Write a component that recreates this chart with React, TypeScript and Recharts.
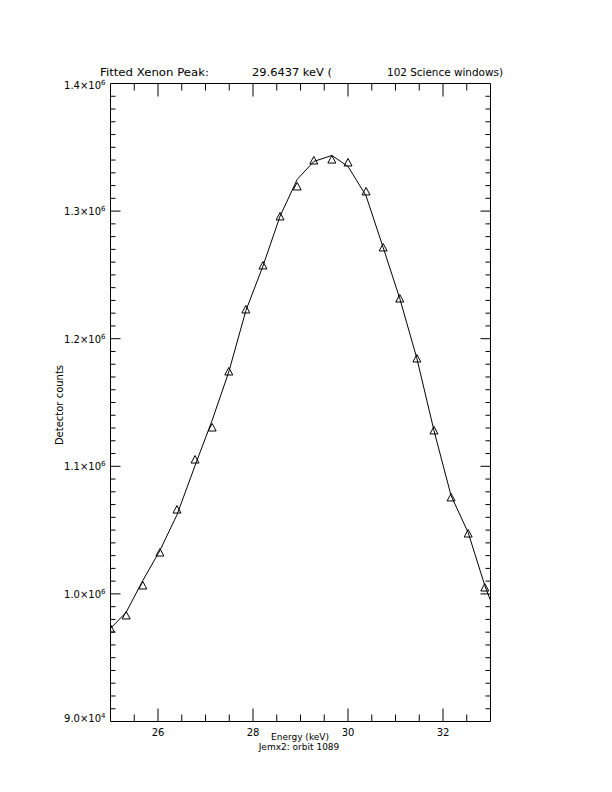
import React from "react";
import { ComposedChart, Line, Scatter, XAxis, YAxis } from "recharts";

// Observed data (triangles)
const energies = [25.0, 25.33, 25.68, 26.04, 26.4, 26.78, 27.14, 27.49, 27.85, 28.21, 28.57, 28.93, 29.28, 29.66, 30.0, 30.38, 30.74, 31.09, 31.45, 31.81, 32.17, 32.53, 32.88];
const counts = [972900, 983100, 1006600, 1032400, 1066100, 1105300, 1130400, 1174300, 1222900, 1257400, 1295800, 1319300, 1339700, 1340400, 1338100, 1315400, 1271500, 1231500, 1184500, 1128100, 1075600, 1047300, 1005000];

// Fitted curve
const fitEnergies = [25.0, 25.33, 25.68, 26.04, 26.4, 26.78, 27.14, 27.49, 27.85, 28.21, 28.57, 28.93, 29.28, 29.66, 30.0, 30.38, 30.74, 31.09, 31.45, 31.81, 32.17, 32.53, 32.88, 33.0];
const fitCounts = [972900, 985600, 1010500, 1034000, 1062000, 1100600, 1136000, 1174000, 1222000, 1257000, 1296000, 1324800, 1338900, 1343600, 1335000, 1312000, 1271500, 1231500, 1184500, 1128000, 1077000, 1048000, 1006600, 994800];

// Axis ticks
const xMajorTicks = [26, 28, 30, 32];
const xMinorTicks = [25.5, 26.5, 27, 27.5, 28.5, 29, 29.5, 30.5, 31, 31.5, 32.5];
const yMajorTicks = [900000, 1000000, 1100000, 1200000, 1300000, 1400000];
const yMajorLabels = [
  ["9.0×10", "4"],
  ["1.0×10", "6"],
  ["1.1×10", "6"],
  ["1.2×10", "6"],
  ["1.3×10", "6"],
  ["1.4×10", "6"],
];
const yMinorStep = 10000;

const title = ["Fitted Xenon Peak:", "29.6437 keV (", "102 Science windows)"];
const xTitle = "Energy (keV)";
const subTitle = "Jemx2: orbit 1089";
const yTitle = "Detector counts";

const obsData = energies.map((x, i) => ({ x, y: counts[i] }));
const fitData = fitEnergies.map((x, i) => ({ x, y: fitCounts[i] }));
const xAllTicks = [...xMajorTicks, ...xMinorTicks].sort((a, b) => a - b);
const yAllTicks: number[] = [];
for (let v = yMajorTicks[0] + yMinorStep; v < yMajorTicks[yMajorTicks.length - 1]; v += yMinorStep) {
  yAllTicks.push(v);
}

const FONT = "'DejaVu Sans', 'Liberation Sans', sans-serif";

const XMAJ = 13;
const XMIN = 7;
const YMAJ = 10;
const YMIN = 5;

const BottomTick = (props: any) => {
  const { x, y, payload } = props;
  const v = payload.value;
  const major = xMajorTicks.includes(v);
  return (
    <g>
      <line x1={x} x2={x} y1={y} y2={y - (major ? XMAJ : XMIN)} stroke="#000" strokeWidth={1} />
      {major && (
        <text x={x} y={y + 14} textAnchor="middle" fontFamily={FONT} fontSize={10} fill="#000">
          {v}
        </text>
      )}
    </g>
  );
};

const TopTick = (props: any) => {
  const { x, y, payload } = props;
  const v = payload.value;
  const major = xMajorTicks.includes(v);
  return <line x1={x} x2={x} y1={y} y2={y + (major ? XMAJ : XMIN)} stroke="#000" strokeWidth={1} />;
};

const isMajorY = (v: number) => yMajorTicks.some((m) => Math.abs(m - v) < 1);

const LeftTick = (props: any) => {
  const { x, y, payload } = props;
  const v = payload.value;
  const major = isMajorY(v);
  return <line x1={x} x2={x + (major ? YMAJ : YMIN)} y1={y} y2={y} stroke="#000" strokeWidth={1} />;
};

const RightTick = (props: any) => {
  const { x, y, payload } = props;
  const v = payload.value;
  const major = isMajorY(v);
  return <line x1={x} x2={x - (major ? YMAJ : YMIN)} y1={y} y2={y} stroke="#000" strokeWidth={1} />;
};

const LabelTick = (props: any) => {
  const { x, y, payload } = props;
  const v = payload.value;
  const idx = yMajorTicks.indexOf(v);
  if (idx < 0) return null;
  const dy = idx === 0 ? 0 : idx === yMajorTicks.length - 1 ? 5.5 : 4;
  return (
    <text x={x - 4} y={y + dy} textAnchor="end" fontFamily={FONT} fontSize={10} fill="#000">
      {yMajorLabels[idx][0]}
      <tspan fontSize={7} dy={-4}>{yMajorLabels[idx][1]}</tspan>
    </text>
  );
};

const Triangle = (props: any) => {
  const { cx, cy } = props;
  if (cx == null || cy == null) return null;
  return (
    <polygon
      points={`${cx - 4},${cy + 3.5} ${cx + 4},${cy + 3.5} ${cx},${cy - 4}`}
      fill="none"
      stroke="#000"
      strokeWidth={1}
    />
  );
};

export default function App() {
  return (
    <div style={{ position: "absolute", left: 0, top: 0, width: 612, height: 792, background: "#fff" }}>
      <ComposedChart
        width={612}
        height={792}
        margin={{ top: 82.5, left: 108.5, right: 120.5, bottom: 69.5 }}
        style={{ position: "absolute", left: 0, top: 0 }}
      >
        <XAxis
          xAxisId="b"
          dataKey="x"
          type="number"
          orientation="bottom"
          domain={[25, 33]}
          allowDataOverflow
          ticks={xAllTicks}
          interval={0}
          height={1}
          tickSize={0}
          tickMargin={0}
          tickLine={false}
          axisLine={{ stroke: "#000", strokeWidth: 1 }}
          tick={BottomTick}
        />
        <XAxis
          xAxisId="t"
          dataKey="x"
          type="number"
          orientation="top"
          domain={[25, 33]}
          allowDataOverflow
          ticks={xAllTicks}
          interval={0}
          height={1}
          tickSize={0}
          tickMargin={0}
          tickLine={false}
          axisLine={{ stroke: "#000", strokeWidth: 1 }}
          tick={TopTick}
        />
        <YAxis
          yAxisId="lbl"
          type="number"
          orientation="left"
          domain={[900000, 1400000]}
          allowDataOverflow
          ticks={yMajorTicks}
          interval={0}
          width={1}
          tickSize={0}
          tickMargin={0}
          tickLine={false}
          axisLine={false}
          tick={LabelTick}
        />
        <YAxis
          yAxisId="l"
          type="number"
          orientation="left"
          domain={[900000, 1400000]}
          allowDataOverflow
          ticks={[...yAllTicks]}
          interval={0}
          width={1}
          tickSize={0}
          tickMargin={0}
          tickLine={false}
          axisLine={{ stroke: "#000", strokeWidth: 1 }}
          tick={LeftTick}
        />
        <YAxis
          yAxisId="r"
          type="number"
          orientation="right"
          domain={[900000, 1400000]}
          allowDataOverflow
          ticks={yAllTicks}
          interval={0}
          width={1}
          tickSize={0}
          tickMargin={0}
          tickLine={false}
          axisLine={{ stroke: "#000", strokeWidth: 1 }}
          tick={RightTick}
        />
        <Line
          data={fitData}
          dataKey="y"
          xAxisId="b"
          yAxisId="l"
          type="linear"
          stroke="#000"
          strokeWidth={1}
          dot={false}
          activeDot={false}
          isAnimationActive={false}
        />
        <Scatter
          data={obsData}
          dataKey="y"
          xAxisId="b"
          yAxisId="l"
          shape={Triangle}
          isAnimationActive={false}
        />
      </ComposedChart>
      <svg
        width={612}
        height={792}
        style={{ position: "absolute", left: 0, top: 0, pointerEvents: "none" }}
      >
        <text x={100} y={76} fontFamily={FONT} fontSize={11} fill="#000" textLength={109} lengthAdjust="spacingAndGlyphs">
          {title[0]}
        </text>
        <text x={252} y={76} fontFamily={FONT} fontSize={11} fill="#000" textLength={80} lengthAdjust="spacingAndGlyphs">
          {title[1]}
        </text>
        <text x={387} y={76} fontFamily={FONT} fontSize={11} fill="#000" textLength={116} lengthAdjust="spacingAndGlyphs">
          {title[2]}
        </text>
        <text x={300} y={740} textAnchor="middle" fontFamily={FONT} fontSize={9} fill="#000">
          {xTitle}
        </text>
        <text x={299} y={750} textAnchor="middle" fontFamily={FONT} fontSize={9} fill="#000">
          {subTitle}
        </text>
        <text
          x={63}
          y={405}
          textAnchor="middle"
          fontFamily={FONT}
          fontSize={10}
          fill="#000"
          transform="rotate(-90 63 405)"
        >
          {yTitle}
        </text>
      </svg>
    </div>
  );
}
